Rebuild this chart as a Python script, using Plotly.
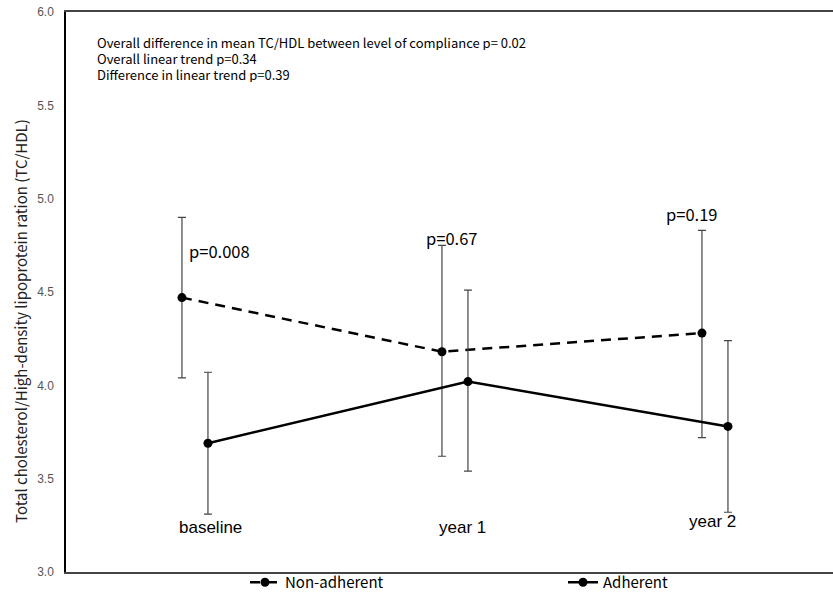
import plotly.graph_objects as go

categories = ["baseline", "year 1", "year 2"]
x_pos = [0, 1, 2]
adh_offset = 0.1

non_mean = [4.47, 4.18, 4.28]
non_upper = [4.90, 4.75, 4.83]
non_lower = [4.04, 3.62, 3.72]

adh_mean = [3.69, 4.02, 3.78]
adh_upper = [4.07, 4.51, 4.24]
adh_lower = [3.31, 3.54, 3.32]

p_labels = ["p=0.008", "p=0.67", "p=0.19"]
p_x = [0.02, 1.035, 1.96]
p_y = [4.72, 4.79, 4.92]

cat_x = [0.11, 1.08, 2.04]
cat_y = [3.24, 3.24, 3.27]

stats_text = ["Overall difference in mean TC/HDL between level of compliance p= 0.02",
              "Overall linear trend p=0.34",
              "Difference in linear trend p=0.39"]

y_title = "Total cholesterol/High-density lipoprotein ration (TC/HDL)"

W, H = 833, 595
L, R, T, B = 66, 0, 12, 23
PW, PH = W - L - R, H - T - B


def px_x(p):
    return (p - L) / PW


def px_y(p):
    return 1 - (p - T) / PH


fig = go.Figure()

fig.add_trace(go.Scatter(
    x=x_pos, y=non_mean, name="Non-adherent", mode="lines+markers", legend="legend",
    line=dict(color="black", width=2.5, dash="10px,7px"),
    marker=dict(color="black", size=9),
    error_y=dict(type="data", symmetric=False,
                 array=[u - m for u, m in zip(non_upper, non_mean)],
                 arrayminus=[m - l for m, l in zip(non_mean, non_lower)],
                 color="#444444", thickness=1.2, width=4),
))
fig.add_trace(go.Scatter(
    x=[x + adh_offset for x in x_pos], y=adh_mean, name="Adherent", mode="lines+markers",
    legend="legend2",
    line=dict(color="black", width=2.5),
    marker=dict(color="black", size=9),
    error_y=dict(type="data", symmetric=False,
                 array=[u - m for u, m in zip(adh_upper, adh_mean)],
                 arrayminus=[m - l for m, l in zip(adh_mean, adh_lower)],
                 color="#444444", thickness=1.2, width=4),
))

for t, xx, yy in zip(p_labels, p_x, p_y):
    fig.add_annotation(x=xx, y=yy, text=t, showarrow=False,
                       xanchor="left" if t == "p=0.008" else "center",
                       font=dict(family="Noto Sans CJK KR", size=16.5, color="black"))

for t, xx, yy in zip(categories, cat_x, cat_y):
    fig.add_annotation(x=xx, y=yy, text=t, showarrow=False,
                       font=dict(family="Liberation Sans", size=17, color="black"))

for i, t in enumerate(stats_text):
    fig.add_annotation(x=px_x(95), y=px_y(42 + 16 * i), xref="paper", yref="paper",
                       text=t, showarrow=False, align="left",
                       xanchor="left", yanchor="middle", height=15,
                       font=dict(family="Noto Sans CJK KR", size=13, color="black"))

fig.add_annotation(x=px_x(20), y=px_y(321), xref="paper", yref="paper",
                   text=y_title, textangle=-90, showarrow=False,
                   xanchor="center", yanchor="middle",
                   font=dict(family="Noto Sans CJK KR", size=15, color="#222222"))

leg_common = dict(orientation="h", y=px_y(566), yanchor="top", xanchor="left",
                  font=dict(family="Noto Sans CJK KR", size=15, color="black"),
                  bgcolor="rgba(0,0,0,0)", itemwidth=30)

fig.update_layout(
    width=W, height=H,
    margin=dict(l=L, r=R, t=T, b=B, autoexpand=False),
    paper_bgcolor="white", plot_bgcolor="white",
    showlegend=True,
    legend=dict(x=px_x(245), **leg_common),
    legend2=dict(x=px_x(563), **leg_common),
    xaxis=dict(range=[-0.446, 2.504], showticklabels=False, showgrid=False, zeroline=False,
               showline=True, linecolor="#444444", linewidth=1.5, mirror=True, ticks=""),
    yaxis=dict(range=[3.0, 6.0], tickvals=[3.0, 3.5, 4.0, 4.5, 5.0, 5.5, 6.0],
               ticktext=["3.0", "3.5", "4.0", "4.5", "5.0", "5.5", "6.0"],
               showgrid=False, zeroline=False, showline=True, linecolor="black", linewidth=1.5,
               ticks="", ticklabelstandoff=8,
               tickfont=dict(family="Liberation Sans", size=12, color="#555555")),
)

fig.write_html("out.html")
